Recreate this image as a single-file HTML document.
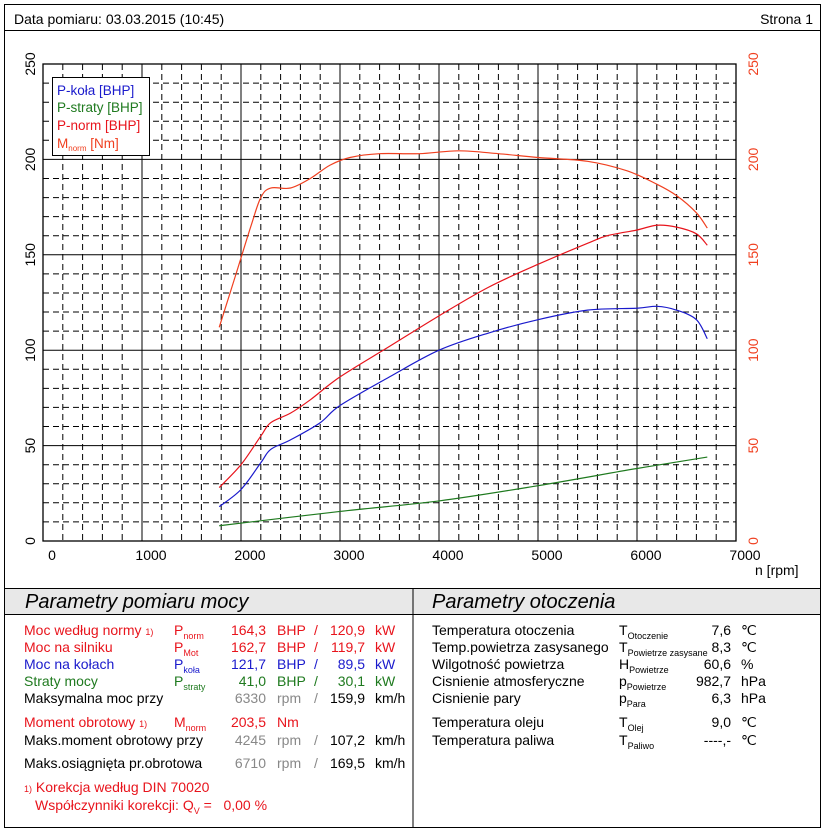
<!DOCTYPE html>
<html><head><meta charset="utf-8"><style>
body{margin:0;background:#fff;width:825px;height:830px;overflow:hidden;font-family:"Liberation Sans",sans-serif;}
.t{position:absolute;font-size:14px;white-space:nowrap;line-height:1}
sub{font-size:9px;vertical-align:-4px}
.r{color:#e8141c}.b{color:#1a1acc}.g{color:#1f7a1f}.gr{color:#888}
</style></head><body>
<svg width="825" height="830" style="position:absolute;left:0;top:0" id="s">
<rect x="4.5" y="4.5" width="816" height="823" fill="none" stroke="#000"/>
<line x1="4" y1="30.5" x2="821" y2="30.5" stroke="#000"/>
<rect x="5" y="588" width="815" height="26" fill="#e8e8e8"/>
<line x1="4" y1="588.5" x2="821" y2="588.5" stroke="#000"/>
<line x1="4" y1="614.5" x2="821" y2="614.5" stroke="#000"/>
<line x1="413" y1="588" x2="413" y2="827" stroke="#000"/>
<g id="grid"></g>
<g id="curves" fill="none" stroke-width="1.2"></g>
<rect x="52.5" y="77.5" width="97" height="78" fill="#fff" stroke="#000"/>
<g font-family="Liberation Sans" font-size="13.5">
<text x="57" y="95" fill="#1a1acc">P-koła [BHP]</text>
<text x="57" y="112" fill="#1f7a1f">P-straty [BHP]</text>
<text x="57" y="130" fill="#e8141c">P-norm [BHP]</text>
<text x="57" y="148" fill="#f04020">M<tspan font-size="8" dy="3">norm</tspan><tspan dy="-3"> [Nm]</tspan></text>
</g>
<g id="lab" font-family="Liberation Sans" font-size="14"></g>
<text x="755" y="575" font-family="Liberation Sans" font-size="14">n [rpm]</text>
</svg>
<div class="t" style="left:14px;top:12px">Data pomiaru: 03.03.2015 (10:45)</div>
<div class="t" style="right:12px;top:12px">Strona 1</div>
<div class="t" style="left:25px;top:592px;font-size:20px;font-style:italic">Parametry pomiaru mocy</div>
<div class="t" style="left:432px;top:592px;font-size:20px;font-style:italic">Parametry otoczenia</div>
<div id="tb"></div>
<script>
const X=r=>43+r*693/7000, Y=v=>541-v*1.908;
let g='';
for(let r=200;r<7000;r+=200){const x=X(r).toFixed(1);const s=r%1000==0;g+=`<line x1="${x}" y1="64" x2="${x}" y2="541" stroke="#000" ${s?'':'stroke-dasharray="6,4"'}/>`;}
for(let v=10;v<250;v+=10){const y=Y(v).toFixed(1);const s=v%50==0;g+=`<line x1="43" y1="${y}" x2="736" y2="${y}" stroke="#000" ${s?'':'stroke-dasharray="6,4"'}/>`;}
g+=`<rect x="43" y="64" width="693" height="477" fill="none" stroke="#000" stroke-width="1.3"/>`;
document.getElementById('grid').innerHTML=g;
let l='';
for(let r=0;r<=7000;r+=1000){l+=`<text x="${X(r)+9}" y="560" text-anchor="middle">${r}</text>`;}
for(let v=0;v<=250;v+=50){const y=Y(v);l+=`<text transform="translate(35,${y}) rotate(-90)" text-anchor="middle">${v}</text>`;l+=`<text transform="translate(758,${y}) rotate(-90)" text-anchor="middle" fill="#f04020">${v}</text>`;}
document.getElementById('lab').innerHTML=l;
function path(d){const p=d.map(a=>[X(a[0]),Y(a[1])]);let s=`M${p[0][0]},${p[0][1]}`;
for(let i=0;i<p.length-1;i++){const p0=p[i-1]||p[i],p1=p[i],p2=p[i+1],p3=p[i+2]||p2;
s+=` C${p1[0]+(p2[0]-p0[0])/6},${p1[1]+(p2[1]-p0[1])/6} ${p2[0]-(p3[0]-p1[0])/6},${p2[1]-(p3[1]-p1[1])/6} ${p2[0]},${p2[1]}`;}return s;}
const M=[[1780,112],[1950,140],[2100,165],[2200,180],[2300,185],[2500,185],[2700,190],[2900,197],[3100,201],[3400,203],[3800,203],[4200,204.5],[4600,203],[5000,201],[5500,199],[5900,194],[6200,187],[6400,181],[6600,172],[6710,164]];
const P=[[1780,28],[2000,40],[2200,55],[2300,62],[2500,67],[2700,74],[3000,86],[3500,102],[4000,118],[4500,133],[5000,145],[5500,156],[5700,160],[6000,163],[6200,165.5],[6400,164.5],[6600,161],[6710,155]];
const B=[[1780,18],[2000,27],[2200,41],[2300,48],[2500,53],[2800,62],[3000,71],[3500,86],[4000,100],[4500,109],[5000,116],[5500,121],[6000,122],[6200,123],[6400,121],[6600,116],[6710,106]];
const G=[[1780,8],[3000,15.5],[4000,21],[5000,29],[6000,38],[6710,44]];
document.getElementById('curves').innerHTML=`<path d="${path(M)}" stroke="#f04020"/><path d="${path(P)}" stroke="#e8141c"/><path d="${path(B)}" stroke="#1a1acc"/><path d="${path(G)}" stroke="#1f7a1f"/>`;
const rows=[
[623,'r','Moc według normy <span style="font-size:9px">1)</span>','P<sub>norm</sub>','164,3','BHP','/','120,9','kW','r'],
[640,'r','Moc na silniku','P<sub>Mot</sub>','162,7','BHP','/','119,7','kW','r'],
[657,'b','Moc na kołach','P<sub>koła</sub>','121,7','BHP','/','89,5','kW','b'],
[674,'g','Straty mocy','P<sub>straty</sub>','41,0','BHP','/','30,1','kW','g'],
[691,'','Maksymalna moc przy','','6330','rpm','/','159,9','km/h','gr'],
[715,'r','Moment obrotowy <span style="font-size:9px">1)</span>','M<sub>norm</sub>','203,5','Nm','','','','r'],
[733,'','Maks.moment obrotowy przy','','4245','rpm','/','107,2','km/h','gr'],
[756,'','Maks.osiągnięta pr.obrotowa','','6710','rpm','/','169,5','km/h','gr']];
let h='';
for(const r of rows){const c=r[1],v=r[9];const vc=v=='gr'?'gr':c;
h+=`<div class="t ${c}" style="left:24px;top:${r[0]}px">${r[2]}</div><div class="t ${c}" style="left:174px;top:${r[0]}px">${r[3]}</div>`;
h+=`<div class="t ${vc}" style="right:559px;top:${r[0]}px">${r[4]}</div><div class="t ${vc}" style="left:277px;top:${r[0]}px">${r[5]}</div>`;
h+=`<div class="t ${vc}" style="left:314px;top:${r[0]}px">${r[6]}</div><div class="t ${c}" style="right:460px;top:${r[0]}px">${r[7]}</div><div class="t ${c}" style="left:375px;top:${r[0]}px">${r[8]}</div>`;}
h+=`<div class="t r" style="left:24px;top:780px"><span style="font-size:9px">1)</span> Korekcja według DIN 70020</div>`;
h+=`<div class="t r" style="left:35px;top:798px">Współczynniki korekcji: Q<sub>V</sub> = &nbsp;&nbsp;0,00 %</div>`;
const R=[[623,'Temperatura otoczenia','T<sub>Otoczenie</sub>','7,6','℃'],[640,'Temp.powietrza zasysanego','T<sub>Powietrze zasysane</sub>','8,3','℃'],[657,'Wilgotność powietrza','H<sub>Powietrze</sub>','60,6','%'],[674,'Cisnienie atmosferyczne','p<sub>Powietrze</sub>','982,7','hPa'],[691,'Cisnienie pary','p<sub>Para</sub>','6,3','hPa'],[715,'Temperatura oleju','T<sub>Olej</sub>','9,0','℃'],[733,'Temperatura paliwa','T<sub>Paliwo</sub>','----,-','℃']];
for(const r of R){h+=`<div class="t" style="left:432px;top:${r[0]}px">${r[1]}</div><div class="t" style="left:619px;top:${r[0]}px">${r[2]}</div><div class="t" style="right:94px;top:${r[0]}px">${r[3]}</div><div class="t" style="left:741px;top:${r[0]}px">${r[4]}</div>`;}
document.getElementById('tb').innerHTML=h;
</script>
</body></html>
